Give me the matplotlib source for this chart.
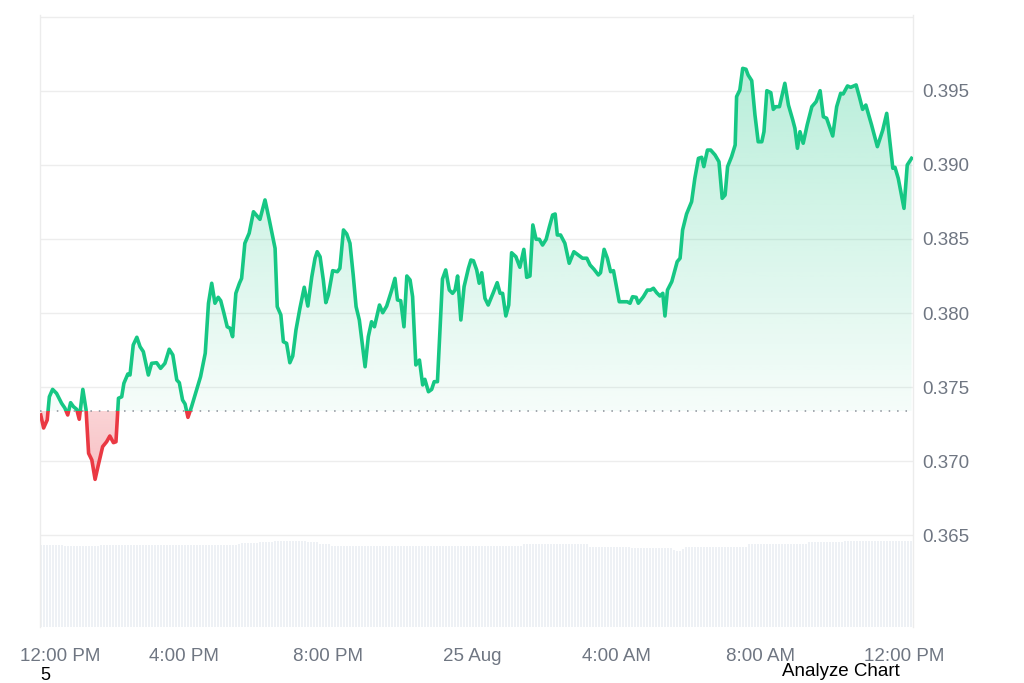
import numpy as np
import matplotlib
matplotlib.use("Agg")
import matplotlib.pyplot as plt
import matplotlib.transforms as mtransforms
from matplotlib.patches import Rectangle
from matplotlib.path import Path

plt.rcParams['font.family'] = ['Liberation Sans', 'DejaVu Sans']

# price: hours since 12:00 PM, price in USD
hours = [0.02, 0.10, 0.20, 0.26, 0.35, 0.46, 0.60, 0.69, 0.77, 0.85, 0.93, 1.02, 1.09,
         1.19, 1.28, 1.35, 1.44, 1.53, 1.62, 1.74, 1.85, 1.94, 2.04, 2.11, 2.18, 2.27,
         2.33, 2.44, 2.50, 2.59, 2.69, 2.78, 2.87, 3.01, 3.10, 3.24, 3.35, 3.47, 3.59,
         3.69, 3.80, 3.87, 3.96, 4.03, 4.11, 4.21, 4.35, 4.46, 4.59, 4.68, 4.77, 4.86,
         4.95, 5.02, 5.11, 5.20, 5.28, 5.35, 5.44, 5.54, 5.60, 5.69, 5.81, 5.93, 6.11,
         6.25, 6.37, 6.53, 6.59, 6.69, 6.76, 6.85, 6.94, 7.02, 7.11, 7.22, 7.34, 7.44,
         7.55, 7.64, 7.70, 7.78, 7.87, 7.94, 8.01, 8.13, 8.26, 8.33, 8.43, 8.52, 8.61,
         8.70, 8.78, 8.87, 9.03, 9.12, 9.21, 9.29, 9.43, 9.52, 9.63, 9.77, 9.86, 9.93,
         10.02, 10.11, 10.19, 10.28, 10.35, 10.44, 10.54, 10.63, 10.69, 10.79, 10.88,
         10.95, 11.04, 11.18, 11.27, 11.37, 11.46, 11.53, 11.60, 11.69, 11.78, 11.90,
         11.97, 12.04, 12.13, 12.20, 12.27, 12.36, 12.45, 12.59, 12.70, 12.78, 12.85,
         12.94, 13.02, 13.10, 13.22, 13.33, 13.44, 13.52, 13.61, 13.69, 13.78, 13.87,
         13.96, 14.06, 14.15, 14.24, 14.31, 14.37, 14.46, 14.58, 14.70, 14.83, 14.95,
         15.07, 15.19, 15.28, 15.39, 15.51, 15.57, 15.67, 15.76, 15.85, 15.93, 16.09,
         16.20, 16.31, 16.39, 16.46, 16.56, 16.62, 16.76, 16.87, 16.96, 17.04, 17.13,
         17.22, 17.30, 17.36, 17.43, 17.55, 17.70, 17.78, 17.85, 17.96, 18.10, 18.19,
         18.29, 18.38, 18.44, 18.54, 18.63, 18.75, 18.86, 18.95, 19.03, 19.10, 19.21,
         19.31, 19.35, 19.44, 19.52, 19.61, 19.67, 19.77, 19.86, 19.95, 20.05, 20.11,
         20.19, 20.30, 20.37, 20.44, 20.54, 20.69, 20.79, 20.91, 20.97, 21.04, 21.11,
         21.20, 21.31, 21.44, 21.56, 21.67, 21.76, 21.85, 22.02, 22.13, 22.24, 22.31,
         22.43, 22.52, 22.67, 22.76, 22.85, 22.94, 23.10, 23.26, 23.41, 23.52, 23.69,
         23.75, 23.84, 24.00, 24.09, 24.21]
prices = [0.37311, 0.37223, 0.37277, 0.37434, 0.37484, 0.37457, 0.37390, 0.37358, 0.37311,
          0.37394, 0.37367, 0.37349, 0.37282, 0.37484, 0.37345, 0.37052, 0.37007, 0.36876,
          0.36973, 0.37097, 0.37130, 0.37169, 0.37124, 0.37130, 0.37424, 0.37434, 0.37525,
          0.37588, 0.37581, 0.37784, 0.37836, 0.37772, 0.37739, 0.37581, 0.37660, 0.37664,
          0.37626, 0.37660, 0.37755, 0.37716, 0.37547, 0.37529, 0.37412, 0.37385, 0.37295,
          0.37367, 0.37480, 0.37570, 0.37728, 0.38066, 0.38201, 0.38066, 0.38106, 0.38083,
          0.37998, 0.37907, 0.37897, 0.37840, 0.38133, 0.38201, 0.38234, 0.38471, 0.38539,
          0.38684, 0.38633, 0.38764, 0.38628, 0.38437, 0.38043, 0.37987, 0.37806, 0.37795,
          0.37664, 0.37709, 0.37885, 0.38032, 0.38174, 0.38047, 0.38245, 0.38370, 0.38414,
          0.38380, 0.38223, 0.38070, 0.38122, 0.38286, 0.38279, 0.38302, 0.38561, 0.38534,
          0.38471, 0.38257, 0.38043, 0.37953, 0.37637, 0.37840, 0.37941, 0.37907, 0.38054,
          0.38002, 0.38047, 0.38155, 0.38234, 0.38088, 0.38083, 0.37907, 0.38250, 0.38223,
          0.38110, 0.37649, 0.37682, 0.37514, 0.37552, 0.37468, 0.37484, 0.37536, 0.37536,
          0.38230, 0.38291, 0.38155, 0.38133, 0.38155, 0.38250, 0.37953, 0.38178, 0.38302,
          0.38358, 0.38353, 0.38291, 0.38201, 0.38272, 0.38099, 0.38054, 0.38137, 0.38205,
          0.38133, 0.38133, 0.37980, 0.38054, 0.38407, 0.38380, 0.38309, 0.38430, 0.38241,
          0.38250, 0.38595, 0.38498, 0.38498, 0.38459, 0.38498, 0.38583, 0.38662, 0.38669,
          0.38527, 0.38527, 0.38471, 0.38336, 0.38414, 0.38392, 0.38370, 0.38370, 0.38324,
          0.38295, 0.38257, 0.38272, 0.38430, 0.38370, 0.38279, 0.38286, 0.38076, 0.38076,
          0.38076, 0.38066, 0.38110, 0.38106, 0.38066, 0.38110, 0.38155, 0.38155, 0.38167,
          0.38137, 0.38115, 0.38133, 0.37980, 0.38155, 0.38212, 0.38347, 0.38370, 0.38561,
          0.38669, 0.38752, 0.38910, 0.39045, 0.39052, 0.38989, 0.39101, 0.39101, 0.39068,
          0.39022, 0.38775, 0.38797, 0.38989, 0.39056, 0.39135, 0.39462, 0.39507, 0.39653,
          0.39647, 0.39608, 0.39570, 0.39338, 0.39157, 0.39157, 0.39225, 0.39502, 0.39489,
          0.39376, 0.39394, 0.39394, 0.39552, 0.39405, 0.39304, 0.39248, 0.39113, 0.39225,
          0.39147, 0.39270, 0.39394, 0.39428, 0.39502, 0.39326, 0.39316, 0.39196, 0.39394,
          0.39484, 0.39480, 0.39534, 0.39525, 0.39541, 0.39461, 0.39376, 0.39405, 0.39270,
          0.39124, 0.39236, 0.39349, 0.38978, 0.38984, 0.38910, 0.38707, 0.39000, 0.39045]
open_price = 0.37338

# volume, one bar per 5 minutes (relative units)
volume = [
    8.2, 8.2, 8.2, 8.2, 8.2, 8.2, 8.2, 8.2, 8.1, 8.1, 8.1, 8.1, 8.1, 8.1, 8.1, 8.1, 8.1, 8.1, 8.1, 8.1, 8.2, 8.2, 8.2, 8.2,
    8.2, 8.2, 8.2, 8.2, 8.2, 8.2, 8.2, 8.2, 8.2, 8.2, 8.2, 8.2, 8.2, 8.2, 8.2, 8.2, 8.2, 8.2, 8.2, 8.2, 8.2, 8.2, 8.2, 8.2,
    8.2, 8.2, 8.2, 8.2, 8.2, 8.2, 8.2, 8.2, 8.2, 8.2, 8.2, 8.2, 8.2, 8.2, 8.2, 8.2, 8.2, 8.2, 8.3, 8.4, 8.4, 8.4, 8.4, 8.4,
    8.4, 8.5, 8.5, 8.5, 8.5, 8.5, 8.6, 8.6, 8.6, 8.6, 8.6, 8.6, 8.6, 8.6, 8.6, 8.6, 8.6, 8.5, 8.5, 8.5, 8.5, 8.3, 8.3, 8.3,
    8.3, 8.1, 8.1, 8.1, 8.1, 8.1, 8.1, 8.1, 8.1, 8.1, 8.1, 8.1, 8.1, 8.1, 8.1, 8.1, 8.1, 8.1, 8.1, 8.1, 8.1, 8.1, 8.1, 8.1,
    8.1, 8.1, 8.1, 8.1, 8.1, 8.1, 8.1, 8.1, 8.1, 8.1, 8.1, 8.1, 8.1, 8.1, 8.1, 8.1, 8.1, 8.1, 8.1, 8.1, 8.1, 8.1, 8.1, 8.1,
    8.1, 8.1, 8.1, 8.1, 8.1, 8.1, 8.1, 8.1, 8.1, 8.1, 8.1, 8.1, 8.1, 8.1, 8.1, 8.1, 8.1, 8.3, 8.3, 8.3, 8.3, 8.3, 8.3, 8.3,
    8.3, 8.3, 8.3, 8.3, 8.3, 8.3, 8.3, 8.3, 8.3, 8.3, 8.3, 8.3, 8.3, 8.3, 8.3, 8.0, 8.0, 8.0, 8.0, 8.0, 8.0, 8.0, 8.0, 8.0,
    8.0, 8.0, 8.0, 8.0, 8.0, 7.9, 7.9, 7.9, 7.9, 7.9, 7.9, 7.9, 7.9, 7.9, 7.9, 7.9, 7.9, 7.9, 7.9, 7.7, 7.6, 7.6, 7.8, 8.0,
    8.0, 8.0, 8.0, 8.0, 8.0, 8.0, 8.0, 8.0, 8.0, 8.0, 8.0, 8.0, 8.0, 8.0, 8.0, 8.0, 8.0, 8.0, 8.0, 8.0, 8.3, 8.3, 8.3, 8.3,
    8.3, 8.3, 8.3, 8.3, 8.3, 8.3, 8.3, 8.3, 8.3, 8.3, 8.3, 8.3, 8.3, 8.3, 8.3, 8.3, 8.5, 8.5, 8.5, 8.5, 8.5, 8.5, 8.5, 8.5,
    8.5, 8.5, 8.5, 8.5, 8.6, 8.6, 8.6, 8.6, 8.6, 8.6, 8.6, 8.6, 8.6, 8.6, 8.6, 8.6, 8.6, 8.6, 8.6, 8.6, 8.6, 8.6, 8.6, 8.6,
    8.6, 8.6, 8.6,
]
vol_hours = np.arange(len(volume)) / 12.0

tick_hours = [0, 4, 8, 12, 16, 20, 24]
tick_labels = ["12:00 PM", "4:00 PM", "8:00 PM", "25 Aug", "4:00 AM", "8:00 AM", "12:00 PM"]
price_ticks = [0.365, 0.370, 0.375, 0.380, 0.385, 0.390, 0.395, 0.400]

green = '#16c784'
red = '#ea3943'
grey_txt = '#6f7682'

x = np.array(hours)
y = np.array(prices)

fig = plt.figure(figsize=(10.24, 6.83), dpi=100)
ax = fig.add_axes([40 / 1024, 1 - 627 / 683, 873 / 1024, 612 / 683])
ax.set_xlim(0, 24.25)
ax.set_ylim(0.358784, 0.400135)

# volume bars in their own axis, drawn at the bottom
vax = ax.twinx()
vax.set_ylim(0, 61.2)
vax.bar(vol_hours, volume, width=1 / 18, align='edge', color='#eef1f5', linewidth=0, zorder=1)
vax.axis('off')
ax.set_zorder(vax.get_zorder() + 1)
ax.patch.set_visible(False)

# gradient fills clipped to the area between price and the opening price
def gradient_fill(where, color, a_near, a_far, y_far):
    poly = ax.fill_between(x, y, open_price, where=where, interpolate=True,
                           facecolor='none', edgecolor='none')
    clip = Path.make_compound_path(*poly.get_paths())
    rgb = matplotlib.colors.to_rgb(color)
    grad = np.zeros((256, 1, 4))
    grad[:, 0, :3] = rgb
    grad[:, 0, 3] = np.linspace(a_near, a_far, 256)
    lo, hi = sorted([open_price, y_far])
    if y_far < open_price:
        grad = grad[::-1]
    im = ax.imshow(grad, extent=[0, 24.25, lo, hi], origin='lower', aspect='auto', zorder=2)
    im.set_clip_path(clip, transform=ax.transData)

gradient_fill(y >= open_price, green, 0.04, 0.30, 0.3966)
gradient_fill(y <= open_price, red, 0.22, 0.32, 0.3688)

# price line, green above the open and red below
up, = ax.plot(x, y, color=green, lw=2.6, zorder=4, solid_joinstyle='round')
dn, = ax.plot(x, y, color=red, lw=2.6, zorder=4, solid_joinstyle='round')
up.set_clip_path(Rectangle((0, open_price), 24.25, 1, transform=ax.transData))
dn.set_clip_path(Rectangle((0, open_price - 1), 24.25, 1, transform=ax.transData))

ax.axhline(open_price, color='#8a8f98', lw=1.1, ls=(0, (1, 4.5)), zorder=3)

# axes styling
ax.set_yticks(price_ticks)
ax.set_yticklabels([f"{p:.3f}" for p in price_ticks[:-1]] + [""])
ax.yaxis.tick_right()
ax.grid(axis='y', color='#ededed', lw=1)
ax.set_axisbelow(True)
ax.set_xticks(tick_hours)
ax.set_xticklabels(tick_labels)
ax.tick_params(axis='both', length=0, labelsize=13.5, labelcolor=grey_txt)
ax.tick_params(axis='x', pad=15)
ax.tick_params(axis='y', pad=7)
for s in ['top', 'bottom']:
    ax.spines[s].set_visible(False)
for s in ['left', 'right']:
    ax.spines[s].set_color('#ececec')
    ax.spines[s].set_linewidth(1)

first = ax.get_xticklabels()[0]
first.set_transform(first.get_transform() +
                    mtransforms.ScaledTranslation(20 / 100, 0, fig.dpi_scale_trans))

fig.text(45 / 1024, 1 - 675 / 683, "5", fontsize=13, color='black', ha='center', va='center')
fig.text(782 / 1024, 1 - 671 / 683, "Analyze Chart", fontsize=13.5, color='black', ha='left', va='center')

fig.savefig("out.png", dpi=100, facecolor='white')
